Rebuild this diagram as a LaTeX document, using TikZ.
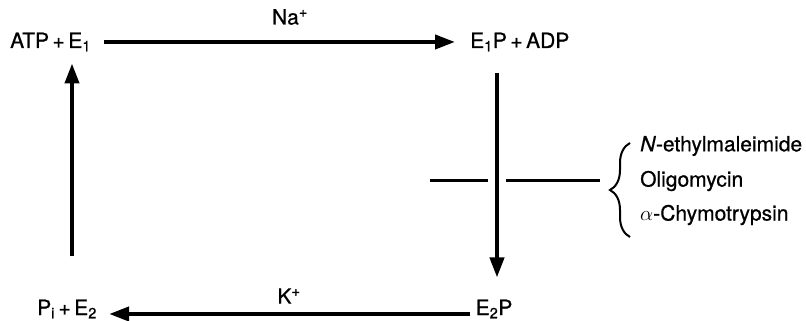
\documentclass[tikz,border=0pt]{standalone}
\usepackage{fontspec}
\setmainfont{TeX Gyre Heros}[FakeBold=0.7]
\usetikzlibrary{arrows.meta,decorations.pathreplacing}

\begin{document}
\begin{tikzpicture}[x=1pt,y=-1pt,
  every node/.style={font=\fontsize{21}{25}\selectfont, inner sep=0pt},
  rxn/.style={line width=4pt, -{Triangle[length=20pt,width=14pt]}},
  bar/.style={line width=3pt}]
  \useasboundingbox (0,0) rectangle (806,321);
  % the four states
  \node[anchor=base west] (atp) at (10,48) {ATP\,+\,E\textsubscript{1}};
  \node[anchor=base west] (e1p) at (470,48) {E\textsubscript{1}P\,+\,ADP};
  \node[anchor=base] (e2p) at (494,315) {E\textsubscript{2}P};
  \node[anchor=base west] (pie2) at (37,315) {P\textsubscript{i}\,+\,E\textsubscript{2}};
  \node (na) at (290,17) {Na\textsuperscript{+}};
  \node (k) at (289,296) {K\textsuperscript{+}};
  % inhibitors
  \node[anchor=west] (inh1) at (640,146) {\textit{N}-ethylmaleimide};
  \node[anchor=west] (inh2) at (640,181) {Oligomycin};
  \node[anchor=west] (inh3) at (640,215) {$\alpha$-Chymotrypsin};

  \draw[rxn, shorten <=13pt, shorten >=15pt] (atp.east) -- (e1p.west);
  \draw[rxn, shorten <=22pt, shorten >=22pt] ([xshift=3pt]e1p.south -| e2p) -- ([xshift=3pt]e2p.north);
  \draw[rxn, shorten <=5pt, shorten >=12pt] ([yshift=-5pt]e2p.west |- pie2) -- ([yshift=-5pt]pie2.east);
  \draw[rxn, shorten <=43pt, shorten >=12pt] ([xshift=35pt]pie2.north west) -- ([xshift=35pt]pie2.north west |- atp.south);

  % block line and brace
  \coordinate (bar-l) at (430,180);
  \coordinate (bar-r) at (600,180);
  \draw[bar] (bar-l) -- ([xshift=-6pt]bar-l -| e2p);
  \draw[bar] ([xshift=12pt]bar-l -| e2p) -- (bar-r);
  \draw[line width=2pt, decorate, decoration={brace, amplitude=20pt}]
    (630,237) -- (630,143);
\end{tikzpicture}
\end{document}
